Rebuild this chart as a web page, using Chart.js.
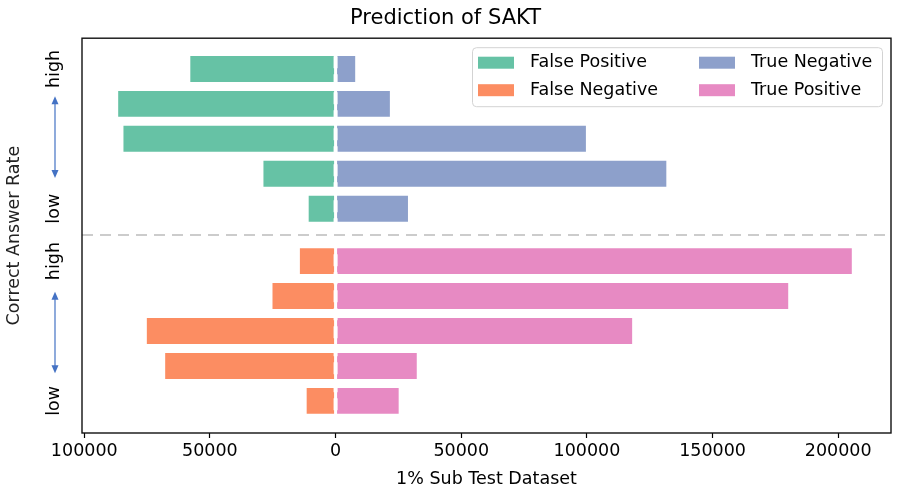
<!DOCTYPE html>
<html><head><meta charset="utf-8">
<script src="https://cdn.jsdelivr.net/npm/chart.js@4.4.1/dist/chart.umd.min.js"></script>
<style>html,body{margin:0;padding:0;background:#fff}#wrap{width:905px;height:504px}</style>
</head><body><div id="wrap"><canvas id="c" width="905" height="504"></canvas></div>
<script>
// Row positions (index axis): upper group = negative-class rows, lower group = positive-class rows
const rowsUpper = [9.5, 8.5, 7.5, 6.5, 5.5];
const rowsLower = [4, 3, 2, 1, 0];
// Series values (counts); left-side series are negative
const falsePositive = [-58200, -86900, -84800, -29100, -11100];
const trueNegative  = [8200, 22000, 100000, 132000, 29200];
const falseNegative = [-14600, -25500, -75500, -68200, -11900];
const truePositive  = [205800, 180500, 118400, 32700, 25500];
const seriesNames = ['False Positive', 'False Negative', 'True Negative', 'True Positive'];
const yTickValues = [9.5, 5.5, 4, 0];
const yTickLabels = ['high', 'low', 'high', 'low'];
const xTickValues = [-100000, -50000, 0, 50000, 100000, 150000, 200000];

const colors = ['#66c2a5', '#fc8d62', '#8da0cb', '#e78ac3'];
const FONT = 'DejaVu Sans';
Chart.defaults.font.family = FONT;
Chart.defaults.color = '#000';

const pts = (rows, vals) => vals.map((v, i) => ({ x: v, y: rows[i] }));

const overlay = {
  id: 'overlay',
  beforeDatasetsDraw(chart) {
    const { ctx, chartArea: a, scales: { y } } = chart;
    const yy = y.getPixelForValue(4.75);
    ctx.save();
    ctx.strokeStyle = '#cccccc';
    ctx.lineWidth = 2;
    ctx.setLineDash([11, 7]);
    ctx.beginPath(); ctx.moveTo(a.left, yy); ctx.lineTo(a.right, yy); ctx.stroke();
    ctx.restore();
  },
  afterDatasetsDraw(chart) {
    const { ctx, chartArea: a, scales: { x } } = chart;
    const xx = x.getPixelForValue(0);
    ctx.save();
    ctx.strokeStyle = '#ffffff';
    ctx.lineWidth = 4;
    ctx.setLineDash([12, 6]);
    ctx.beginPath(); ctx.moveTo(xx, a.top); ctx.lineTo(xx, a.bottom); ctx.stroke();
    ctx.restore();
  },
  afterDraw(chart) {
    const { ctx, chartArea: a, scales: { y } } = chart;
    ctx.save();
    // frame
    ctx.strokeStyle = '#111';
    ctx.lineWidth = 1.4;
    ctx.strokeRect(a.left, a.top, a.right - a.left, a.bottom - a.top);
    // arrows
    const ax = 55;
    const spans = [[8.72, 6.38], [3.12, 0.79]];
    ctx.strokeStyle = '#4472c4';
    ctx.fillStyle = '#4472c4';
    ctx.lineWidth = 1.2;
    spans.forEach(([t, b]) => {
      const y1 = y.getPixelForValue(t), y2 = y.getPixelForValue(b);
      ctx.beginPath(); ctx.moveTo(ax, y1 + 5); ctx.lineTo(ax, y2 - 5); ctx.stroke();
      ctx.beginPath(); ctx.moveTo(ax, y1); ctx.lineTo(ax - 3.5, y1 + 8); ctx.lineTo(ax + 3.5, y1 + 8); ctx.closePath(); ctx.fill();
      ctx.beginPath(); ctx.moveTo(ax, y2); ctx.lineTo(ax - 3.5, y2 - 8); ctx.lineTo(ax + 3.5, y2 - 8); ctx.closePath(); ctx.fill();
    });
    // legend
    const bx = a.right - 418.5, by = a.top + 9.5, bw = 410, bh = 59;
    ctx.beginPath();
    ctx.roundRect(bx, by, bw, bh, 4);
    ctx.fillStyle = 'rgba(255,255,255,0.85)';
    ctx.fill();
    ctx.strokeStyle = '#d3d3d3';
    ctx.lineWidth = 1;
    ctx.stroke();
    ctx.font = '17.5px "' + FONT + '"';
    ctx.textBaseline = 'middle';
    ctx.textAlign = 'left';
    chart.data.datasets.forEach((ds, i) => {
      const col = Math.floor(i / 2), row = i % 2;
      const sx = bx + 5.5 + col * 221, cy = by + 15 + row * 27.5;
      ctx.fillStyle = ds.backgroundColor;
      ctx.fillRect(sx, cy - 6, 36, 12);
      ctx.fillStyle = '#000';
      ctx.fillText(ds.label, sx + 52, cy);
    });
    ctx.restore();
  }
};

new Chart(document.getElementById('c'), {
  type: 'bar',
  data: {
    datasets: [
      { label: seriesNames[0], data: pts(rowsUpper, falsePositive), backgroundColor: colors[0] },
      { label: seriesNames[1], data: pts(rowsLower, falseNegative), backgroundColor: colors[1] },
      { label: seriesNames[2], data: pts(rowsUpper, trueNegative), backgroundColor: colors[2] },
      { label: seriesNames[3], data: pts(rowsLower, truePositive), backgroundColor: colors[3] }
    ]
  },
  options: {
    responsive: false,
    animation: false,
    indexAxis: 'y',
    layout: { padding: { left: 0, right: 14, top: 0, bottom: 0 } },
    datasets: { bar: { grouped: false, barPercentage: 0.8, categoryPercentage: 1, borderWidth: 1, borderColor: '#ffffff', borderSkipped: false } },
    scales: {
      x: {
        type: 'linear', position: 'bottom', min: -100900, max: 221000,
        afterBuildTicks: s => { s.ticks = xTickValues.map(v => ({ value: v })); },
        ticks: { callback: v => String(Math.abs(v)), font: { size: 17.5 }, color: '#000', padding: 3, maxRotation: 0, autoSkip: false },
        grid: { drawOnChartArea: false, drawTicks: true, tickLength: 5, color: '#000', tickWidth: 1.2 },
        border: { display: false },
        title: { display: true, text: '1% Sub Test Dataset', font: { size: 17.5 }, color: '#000', padding: { top: 2, bottom: 14 } },
        afterFit: s => { s.height = 71; }
      },
      y: {
        type: 'linear', position: 'left', min: -0.92, max: 10.38, offset: false,
        afterBuildTicks: s => { s.ticks = yTickValues.map(v => ({ value: v })); },
        ticks: { callback: (v, i) => yTickLabels[i], minRotation: 90, maxRotation: 90, crossAlign: 'center', padding: 8, font: { size: 17.5 }, color: '#000' },
        grid: { display: false, drawTicks: false, offset: false },
        border: { display: false },
        title: { display: true, text: 'Correct Answer Rate', font: { size: 17.5 }, color: '#222', padding: { top: 4, bottom: 0 } },
        afterFit: s => { s.width = 82; }
      }
    },
    plugins: {
      legend: { display: false },
      tooltip: { enabled: false },
      title: { display: true, text: 'Prediction of SAKT', font: { size: 21, weight: 'normal' }, color: '#000', padding: { top: 6, bottom: 7 } }
    }
  },
  plugins: [overlay]
});
</script>
</body></html>
